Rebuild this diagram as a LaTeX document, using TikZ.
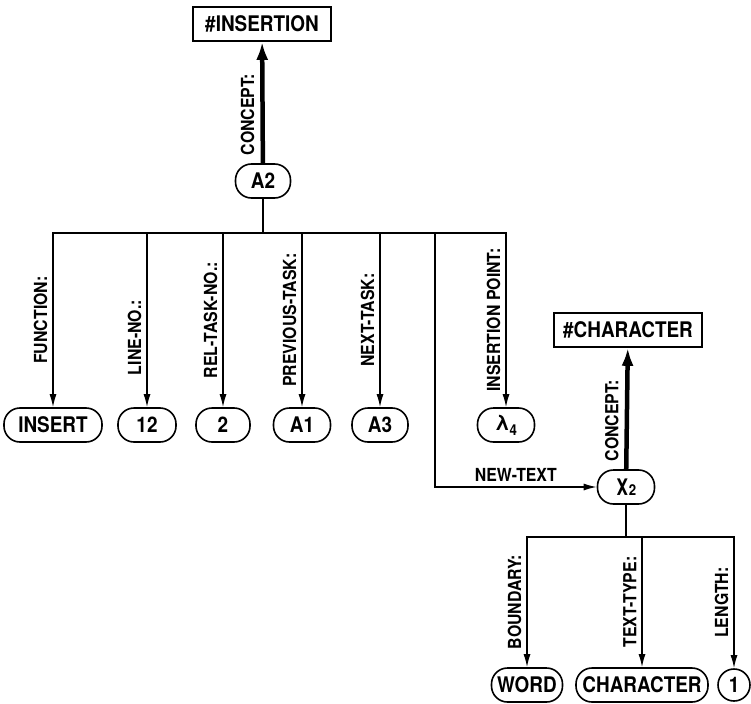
\documentclass[tikz,border=0pt]{standalone}
\usepackage{fontspec}
\setmainfont{TeX Gyre Heros}[FakeStretch=0.88]
\usetikzlibrary{arrows.meta}

\newcommand\lowidx[1]{\raisebox{-5pt}{\fontsize{15}{15}\selectfont #1}}

\begin{document}
\begin{tikzpicture}[x=1pt,y=-1pt,
    font=\bfseries\fontsize{21.5}{24}\selectfont,
    >={Latex[length=13pt,width=7pt]},
    val/.style={draw, line width=1.6pt, rounded corners=16pt,
      minimum height=34pt, minimum width=#1, inner sep=0pt},
    val/.default=56pt,
    cls/.style={draw, line width=1.6pt, minimum height=34pt,
      minimum width=#1, inner sep=0pt},
    num/.style={draw, circle, line width=1.6pt, minimum size=32pt, inner sep=0pt},
    rel/.style={rotate=90, anchor=south, inner ysep=5pt,
      font=\bfseries\fontsize{18}{20}\selectfont},
    link/.style={->, line width=1.4pt},
    concept/.style={-{Latex[length=18pt,width=12pt]}, line width=4.5pt}
  ]
  \useasboundingbox (0,0) rectangle (751,703);

  % task node and its concept
  \node[cls=138pt] (ins) at (262,24) {\#INSERTION};
  \node[val=55pt] (a2) at (263,181) {A2};
  \draw[concept] (a2) -- node[rel,pos=0.4,inner ysep=6pt] {CONCEPT:} (ins);

  % slot values
  \node[val=98pt] (insert) at (53,425) {INSERT};
  \node[val=58pt] (n12) at (147,425) {12};
  \node[val=54pt] (n2) at (223,425) {2};
  \node[val=57pt] (a1) at (302,425) {A1};
  \node[val=56pt] (a3) at (380,425) {A3};
  \node[val=57pt] (lam) at (506,425) {λ\lowidx{4}};

  \coordinate (fork) at (263,233);
  \coordinate (split) at (435,233);
  \draw[line width=1.4pt] (a2) -- (fork);
  \draw[link] (fork) -| node[rel,pos=0.75] {FUNCTION:} (insert);
  \draw[link] (fork) -| node[rel,pos=0.8] {LINE-NO.:} (n12);
  \draw[link] (fork) -| node[rel,pos=0.75] {REL-TASK-NO.:} (n2);
  \draw[link] (fork) -| node[rel,pos=0.75] {PREVIOUS-TASK:} (a1);
  \draw[link] (fork) -| node[rel,pos=0.75] {NEXT-TASK:} (a3);
  \draw[link] (fork) -| node[rel,pos=0.75] {INSERTION POINT:} (lam);

  % the inserted text
  \node[cls=148pt] (chr) at (628,330) {\#CHARACTER};
  \node[val=57pt] (chi) at (626,487) {χ\lowidx{2}};
  \draw[link] (split) |- node[above,pos=0.75,inner sep=5pt,
    font=\bfseries\fontsize{18}{20}\selectfont] {NEW-TEXT} (chi);
  \draw[concept] (chi) -- node[rel,pos=0.4,inner ysep=6pt] {CONCEPT:} (chr);

  \node[val=71pt] (word) at (527,685) {WORD};
  \node[val=132pt] (chtype) at (642,685) {CHARACTER};
  \node[num] (one) at (734,685) {1};

  \coordinate (fork2) at (626,537);
  \draw[line width=1.4pt] (chi) -- (fork2);
  \draw[link] (fork2) -| node[rel,pos=0.75] {BOUNDARY:} (word);
  \draw[link] (fork2) -| node[rel,pos=0.75] {TEXT-TYPE:} (chtype);
  \draw[link] (fork2) -| node[rel,pos=0.75] {LENGTH:} (one);
\end{tikzpicture}
\end{document}
